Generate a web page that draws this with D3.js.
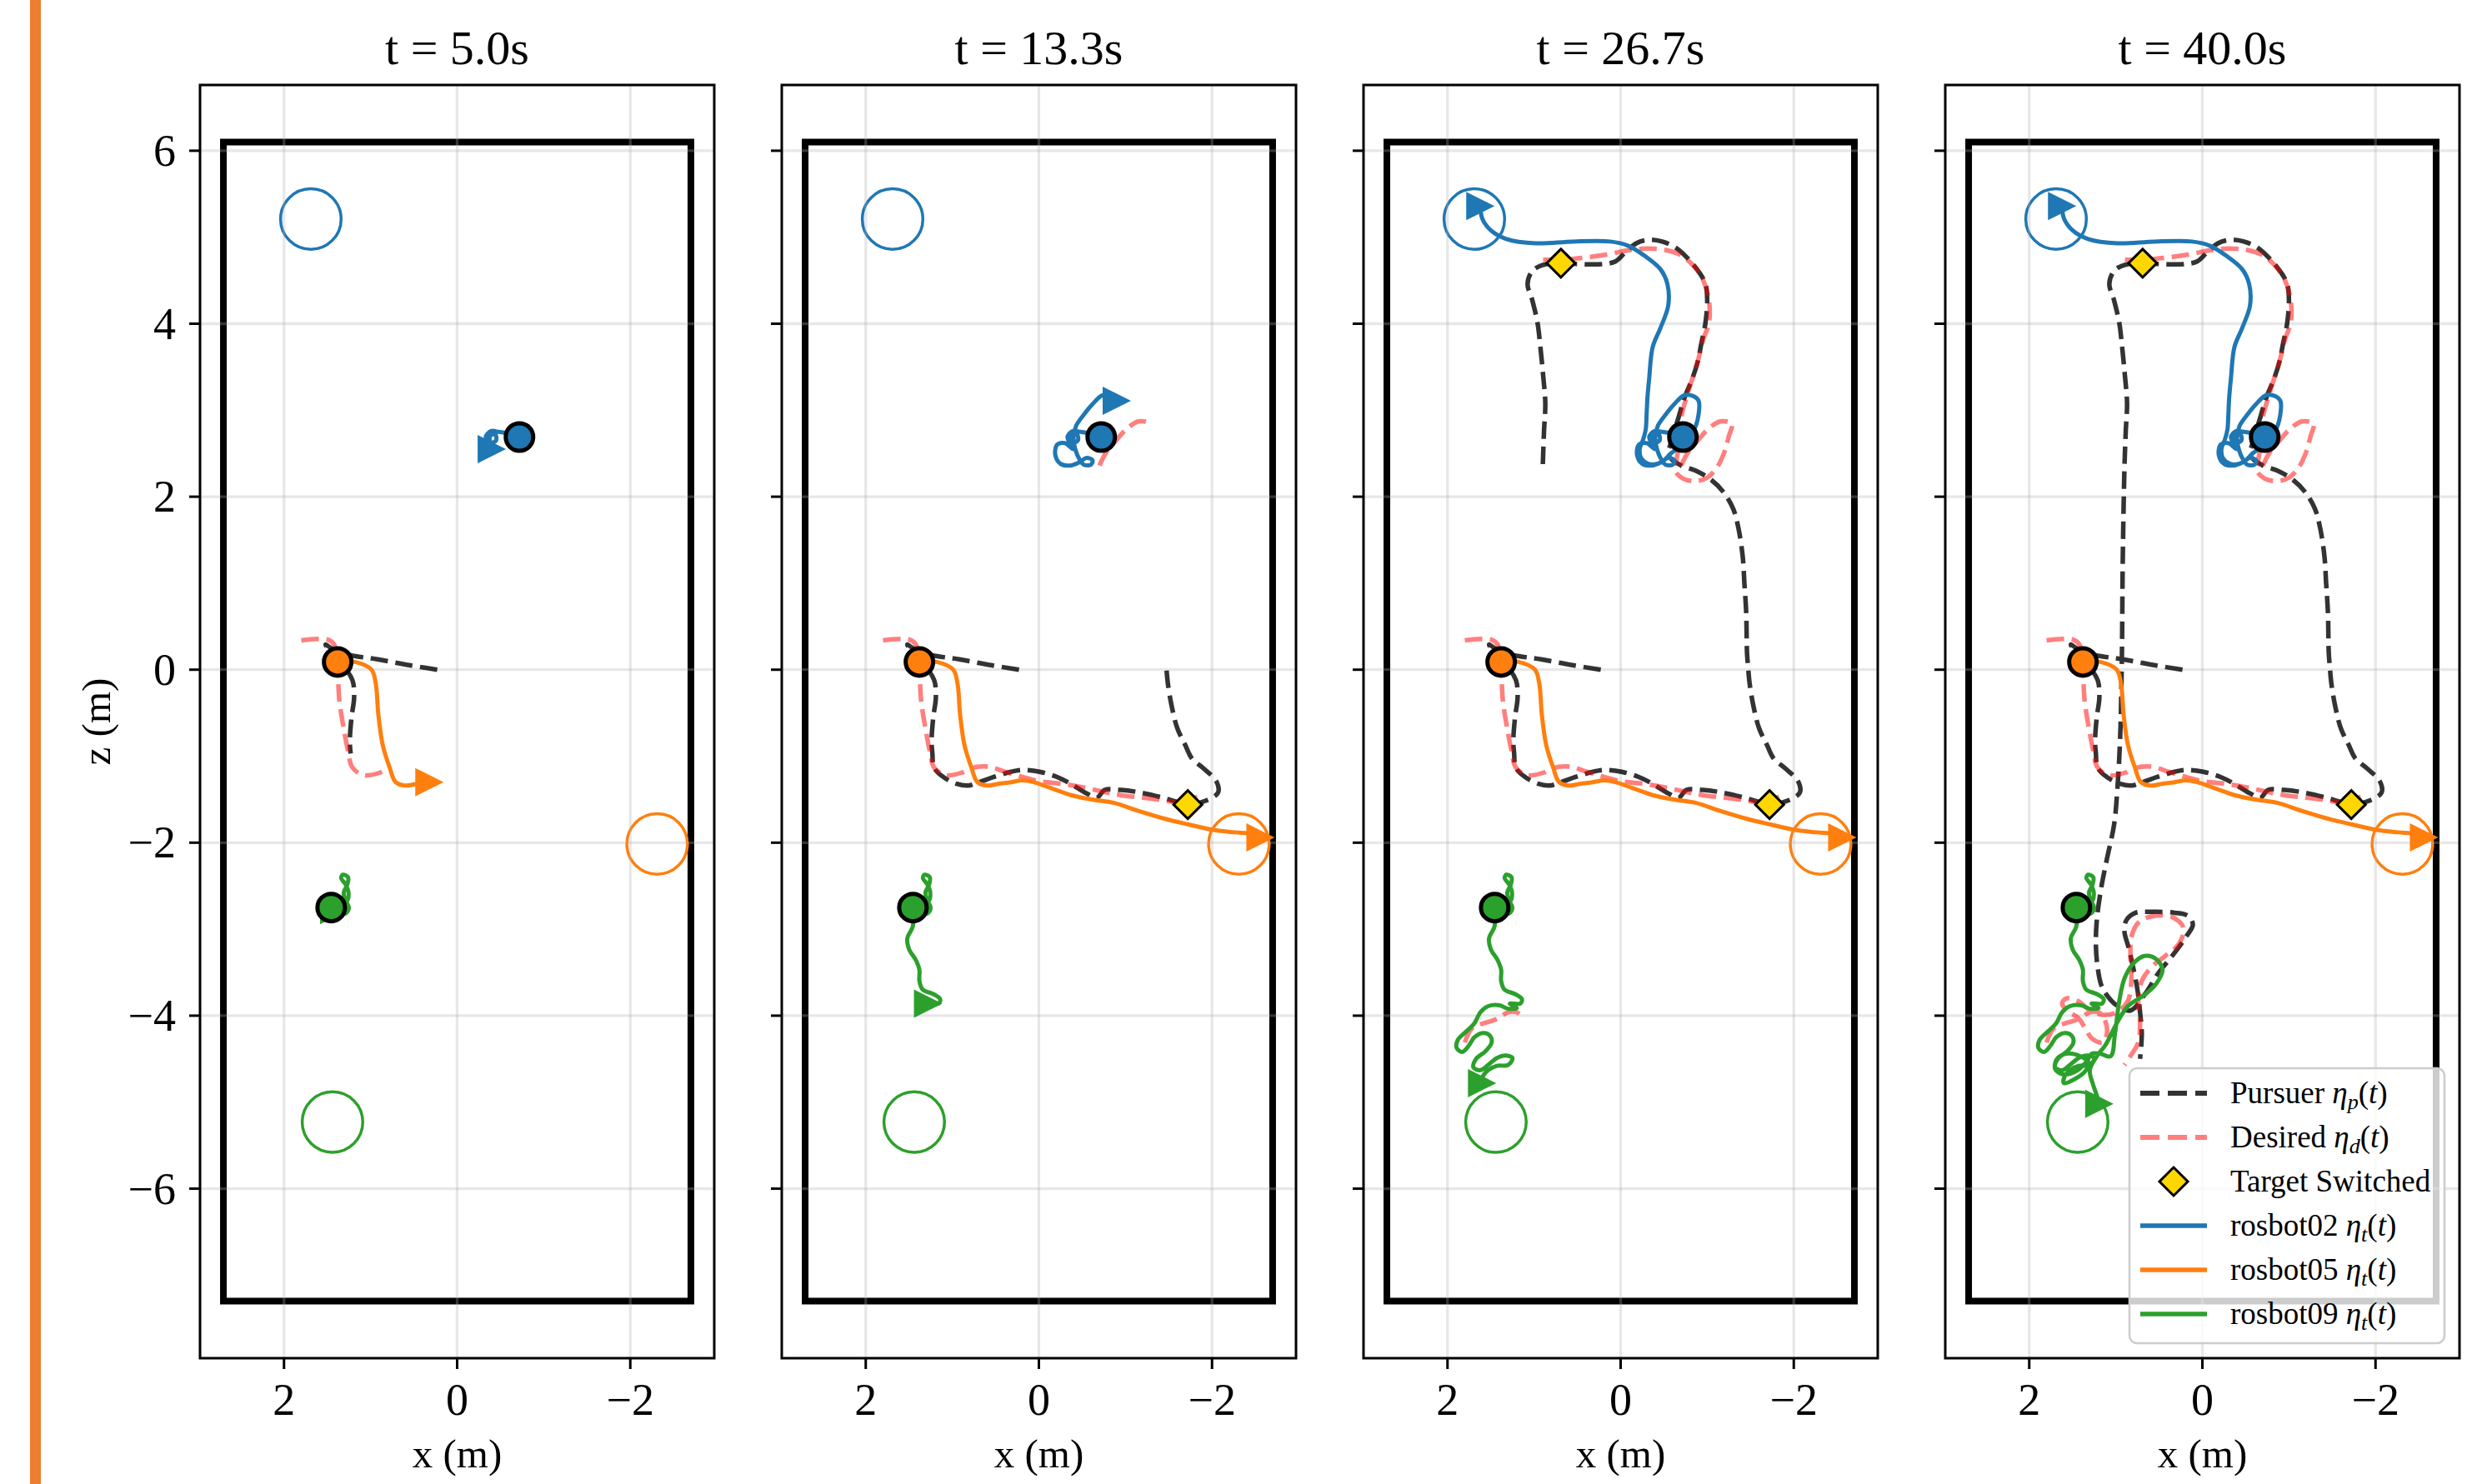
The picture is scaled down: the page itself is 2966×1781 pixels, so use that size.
<!DOCTYPE html>
<html>
<head>
<meta charset="utf-8">
<script src="https://cdn.jsdelivr.net/npm/d3@7"></script>
<style>
body { margin: 0; background: #fff; }
text { font-family: "Liberation Serif", "Times New Roman", serif; fill: #000; }
</style>
</head>
<body>
<script>
// figure size
var width = 2966;
var height = 1781;

// snapshot times of the four panels
var panelTimes = [5.0, 13.3, 26.7, 40.0];
var xTicks = [2, 0, -2];
var zTicks = [-6, -4, -2, 0, 2, 4, 6];
var xLimits = [2.97, -2.97];
var zLimits = [-7.96, 6.76];
// arena walls
var arenaX = [-2.7, 2.7];
var arenaZ = [-7.3, 6.1];

// robots
var robotNames = ['rosbot02', 'rosbot05', 'rosbot09'];
var robotColors = ['#1f77b4', '#ff7f0e', '#2ca02c'];
var robotStarts = [[-0.72, 2.69], [1.38, 0.09], [1.455, -2.75]];
var robotGoals = [[1.69, 5.21], [-2.31, -2.015], [1.44, -5.23]];
var goalRadius = 0.35;

var blueTrack = [
  [-0.72, 2.69], [-0.60, 2.73], [-0.48, 2.75], [-0.39, 2.76], [-0.33, 2.69], [-0.37, 2.62],
  [-0.45, 2.65], [-0.44, 2.72], [-0.38, 2.70], [-0.40, 2.55], [-0.30, 2.62], [-0.21, 2.60],
  [-0.19, 2.48], [-0.25, 2.38], [-0.36, 2.36], [-0.47, 2.40], [-0.55, 2.45], [-0.62, 2.42],
  [-0.60, 2.37], [-0.52, 2.37], [-0.47, 2.43], [-0.42, 2.55], [-0.40, 2.68], [-0.43, 2.82],
  [-0.52, 2.95], [-0.62, 3.07], [-0.73, 3.17], [-0.82, 3.17], [-0.90, 3.11], [-0.90, 2.95],
  [-0.86, 2.80], [-0.78, 2.68], [-0.68, 2.58], [-0.58, 2.50], [-0.50, 2.42], [-0.42, 2.38],
  [-0.32, 2.38], [-0.24, 2.44], [-0.22, 2.55], [-0.26, 2.66], [-0.29, 2.78], [-0.30, 2.95],
  [-0.31, 3.15], [-0.33, 3.37], [-0.37, 3.73], [-0.46, 3.95], [-0.55, 4.21], [-0.54, 4.46],
  [-0.46, 4.63], [-0.27, 4.79], [-0.09, 4.90], [0.12, 4.95], [0.55, 4.95], [0.98, 4.93],
  [1.32, 4.98], [1.50, 5.08], [1.60, 5.22], [1.62, 5.36]
];
var orangeTrack = [
  [1.38, 0.09], [1.18, 0.09], [0.99, 0.0], [0.94, -0.16], [0.91, -0.52], [0.86, -0.87],
  [0.78, -1.13], [0.71, -1.30], [0.60, -1.34], [0.47, -1.32], [0.32, -1.30], [0.19, -1.28],
  [0.06, -1.30], [-0.14, -1.37], [-0.37, -1.45], [-0.61, -1.50], [-0.87, -1.54], [-1.14, -1.63],
  [-1.44, -1.72], [-1.73, -1.79], [-2.00, -1.85], [-2.26, -1.88], [-2.46, -1.90], [-2.56, -1.94]
];
var greenTrack = [
  [1.455, -2.75], [1.27, -2.67], [1.255, -2.575], [1.29, -2.48], [1.34, -2.41], [1.32, -2.37],
  [1.26, -2.40], [1.27, -2.49], [1.31, -2.575], [1.29, -2.67], [1.25, -2.75], [1.29, -2.82],
  [1.42, -2.78], [1.46, -2.98], [1.52, -3.105], [1.50, -3.23], [1.42, -3.36], [1.38, -3.47],
  [1.38, -3.60], [1.34, -3.70], [1.22, -3.75], [1.14, -3.81], [1.16, -3.86], [1.28, -3.86],
  [1.20, -3.91], [1.30, -3.92], [1.40, -3.88], [1.53, -3.89], [1.62, -3.96], [1.69, -4.09],
  [1.78, -4.18], [1.88, -4.28], [1.895, -4.37], [1.83, -4.42], [1.75, -4.34], [1.69, -4.25],
  [1.59, -4.20], [1.51, -4.23], [1.49, -4.31], [1.56, -4.41], [1.67, -4.50], [1.70, -4.60],
  [1.62, -4.63], [1.53, -4.57], [1.43, -4.49], [1.33, -4.46], [1.25, -4.49], [1.30, -4.57],
  [1.43, -4.58], [1.53, -4.63], [1.59, -4.70], [1.60, -4.78], [1.47, -4.73], [1.36, -4.65],
  [1.31, -4.55], [1.41, -4.47], [1.57, -4.44], [1.68, -4.50], [1.70, -4.62], [1.60, -4.68],
  [1.44, -4.63], [1.33, -4.52], [1.28, -4.44], [1.18, -4.44], [1.06, -4.47], [1.01, -4.21],
  [0.96, -3.83], [0.90, -3.57], [0.80, -3.40], [0.67, -3.31], [0.54, -3.34], [0.46, -3.47],
  [0.54, -3.64], [0.67, -3.76], [0.86, -3.89], [0.99, -4.09], [1.12, -4.34], [1.22, -4.47],
  [1.30, -4.63], [1.265, -4.79], [1.22, -4.92], [1.19, -5.02]
];
var robotTracks = [blueTrack, orangeTrack, greenTrack];
// number of samples shown in each panel
var robotCuts = [[10, 29, 58, 58], [11, 24, 24, 24], [13, 24, 52, 82]];

// pursuer
var pursuerTrack = [
  [0.23, 0.0], [0.54, 0.05], [0.92, 0.12], [1.24, 0.17], [1.44, 0.24], [1.52, 0.29],
  [1.46, 0.20], [1.32, 0.05], [1.21, -0.12], [1.19, -0.32], [1.22, -0.55], [1.24, -0.84],
  [1.23, -0.97], [1.22, -1.10], [1.185, -1.17], [1.09, -1.25], [0.95, -1.32], [0.82, -1.34],
  [0.69, -1.30], [0.52, -1.24], [0.32, -1.18], [0.19, -1.16], [-0.01, -1.18], [-0.21, -1.24],
  [-0.37, -1.32], [-0.55, -1.43], [-0.67, -1.48], [-0.76, -1.39], [-0.95, -1.39], [-1.17, -1.42],
  [-1.43, -1.48], [-1.60, -1.53], [-1.72, -1.56], [-1.94, -1.51], [-2.07, -1.42], [-2.05, -1.29],
  [-1.90, -1.14], [-1.77, -1.03], [-1.69, -0.87], [-1.60, -0.68], [-1.54, -0.45], [-1.49, -0.16],
  [-1.47, 0.06], [-1.46, 0.19], [-1.45, 0.67], [-1.43, 0.99], [-1.41, 1.31], [-1.36, 1.64],
  [-1.30, 1.86], [-1.19, 2.05], [-1.04, 2.20], [-0.87, 2.30], [-0.70, 2.36], [-0.55, 2.48],
  [-0.58, 2.62], [-0.67, 2.92], [-0.74, 3.15], [-0.83, 3.37], [-0.89, 3.56], [-0.93, 3.76],
  [-0.98, 4.01], [-1.00, 4.27], [-0.98, 4.46], [-0.91, 4.59], [-0.78, 4.75], [-0.65, 4.87],
  [-0.48, 4.95], [-0.33, 4.97], [-0.18, 4.93], [-0.05, 4.82], [0.06, 4.72], [0.21, 4.69],
  [0.51, 4.69], [0.69, 4.70], [0.895, 4.68], [1.02, 4.61], [1.075, 4.46], [1.02, 4.27],
  [0.96, 4.01], [0.93, 3.76], [0.895, 3.40], [0.87, 3.08], [0.885, 2.76], [0.90, 2.34],
  [0.92, 1.24], [0.93, 0.13], [0.95, -0.79], [0.98, -1.35], [1.02, -1.79], [1.105, -2.20],
  [1.17, -2.53], [1.22, -2.90], [1.23, -3.19], [1.21, -3.44], [1.17, -3.64], [1.105, -3.76],
  [0.99, -3.88], [0.83, -3.94], [0.67, -3.76], [0.51, -3.51], [0.35, -3.31], [0.19, -3.09],
  [0.11, -2.95], [0.16, -2.85], [0.32, -2.81], [0.575, -2.80], [0.77, -2.81], [0.88, -2.90],
  [0.90, -3.03], [0.85, -3.22], [0.80, -3.44], [0.75, -3.70], [0.72, -3.96], [0.70, -4.21],
  [0.72, -4.50]
];
var pursuerCuts = [13, 43, 84, 115];

// desired point, one piece per chased target (null = break)
var desiredTrack = [
  [1.80, 0.34], [1.50, 0.35], [1.42, 0.29], [1.38, -0.04], [1.36, -0.36], [1.31, -0.68],
  [1.26, -0.94], [1.21, -1.13], [1.08, -1.22], [0.89, -1.19], [0.79, -1.14], [0.59, -1.12],
  [0.39, -1.18], [0.19, -1.24], [-0.01, -1.29], [-0.27, -1.32], [-0.51, -1.36], [-0.74, -1.41],
  [-0.94, -1.45], [-1.20, -1.48], [-1.44, -1.51], [-1.60, -1.53], [-1.83, -1.47], null,
  [-0.70, 2.36], [-0.77, 2.50], [-0.90, 2.66], [-1.02, 2.79], [-1.15, 2.87], [-1.265, 2.86],
  [-1.29, 2.84], [-1.25, 2.70], [-1.20, 2.52], [-1.12, 2.35], [-1.00, 2.22], [-0.87, 2.18],
  [-0.72, 2.21], [-0.63, 2.30], [-0.65, 2.45], [-0.68, 2.65], [-0.70, 2.92], [-0.78, 3.21],
  [-0.89, 3.56], [-0.955, 3.82], [-1.02, 4.01], [-1.02, 4.27], [-0.955, 4.50], [-0.85, 4.66],
  [-0.70, 4.79], [-0.525, 4.85], [-0.31, 4.87], [-0.09, 4.85], [0.16, 4.80], [0.55, 4.75],
  [0.895, 4.74], null,
  [1.80, -4.31], [1.72, -4.15], [1.59, -4.09], [1.43, -4.04], [1.30, -3.96], [1.20, -3.96],
  [1.14, -4.02], [1.10, -4.18], [1.15, -4.31], [1.28, -4.26], [1.35, -4.15], [1.44, -4.02],
  [1.54, -3.96], [1.62, -3.86], [1.57, -3.80], [1.44, -3.83], [1.31, -3.93], [1.15, -3.99],
  [0.99, -3.96], [0.86, -3.83], [0.82, -3.57], [0.83, -3.31], [0.82, -3.09], [0.735, -2.92],
  [0.575, -2.85], [0.35, -2.86], [0.22, -2.98], [0.27, -3.17], [0.43, -3.31], [0.59, -3.44],
  [0.70, -3.60], [0.74, -3.83], [0.72, -4.09], [0.74, -4.31], [0.82, -4.45], [0.90, -4.57]
];
var desiredCuts = [11, 31, 63, 92];

// target switch events
var switchPoints = [[-1.72, -1.56], [0.69, 4.70]];
var switchCuts = [0, 1, 2, 2];

// legend
var legendLabels = ['Pursuer', 'Desired', 'Target Switched', 'rosbot02', 'rosbot05', 'rosbot09'];
var legendSubs = ['p', 'd', '', 't', 't', 't'];

// layout
var panelLeft = [240, 938, 1636, 2334];
var panelTop = 102;
var panelW = 617;
var panelH = 1528;

var svg = d3.select('body').append('svg')
  .attr('width', width)
  .attr('height', height);

svg.append('rect').attr('width', width).attr('height', height).attr('fill', '#fff');
// slide accent bar
svg.append('rect').attr('x', 36).attr('y', 0).attr('width', 13).attr('height', height).attr('fill', '#ED7D31');

var xScale = d3.scaleLinear().domain(xLimits).range([0, panelW]);
var zScale = d3.scaleLinear().domain(zLimits).range([panelH, 0]);

var line = d3.line()
  .defined(function(d){ return d != null; })
  .x(function(d){ return xScale(d[0]); })
  .y(function(d){ return zScale(d[1]); })
  .curve(d3.curveCatmullRom.alpha(0.5));

var diamondPath = 'M0,-17L17,0L0,17L-17,0Z';
var arrowPath = 'M-17,-17L17,0L-17,17Z';
var tickText = function(d){ return d < 0 ? '\u2212' + Math.abs(d) : String(d); };

var drawPanel = function(p){
  var g = svg.append('g').attr('transform', 'translate(' + panelLeft[p] + ',' + panelTop + ')');
  var clipId = 'clip' + p;
  g.append('clipPath').attr('id', clipId).append('rect').attr('width', panelW).attr('height', panelH);
  var plot = g.append('g').attr('clip-path', 'url(#' + clipId + ')');

  // arena walls
  plot.append('rect')
    .attr('x', xScale(arenaX[1])).attr('y', zScale(arenaZ[1]))
    .attr('width', xScale(arenaX[0]) - xScale(arenaX[1]))
    .attr('height', zScale(arenaZ[0]) - zScale(arenaZ[1]))
    .attr('fill', 'none').attr('stroke', '#000').attr('stroke-width', 8);

  // goals
  plot.selectAll('circle.goal').data(robotGoals).enter().append('circle')
    .attr('class', 'goal')
    .attr('cx', function(d){ return xScale(d[0]); })
    .attr('cy', function(d){ return zScale(d[1]); })
    .attr('r', xScale(0) - xScale(goalRadius))
    .attr('fill', 'none')
    .attr('stroke', function(d, i){ return robotColors[i]; })
    .attr('stroke-width', 3.5);

  // grid
  plot.selectAll('line.gx').data(xTicks).enter().append('line')
    .attr('x1', function(d){ return xScale(d); }).attr('x2', function(d){ return xScale(d); })
    .attr('y1', 0).attr('y2', panelH)
    .attr('stroke', '#b0b0b0').attr('stroke-opacity', 0.3).attr('stroke-width', 3.3);
  plot.selectAll('line.gz').data(zTicks).enter().append('line')
    .attr('y1', function(d){ return zScale(d); }).attr('y2', function(d){ return zScale(d); })
    .attr('x1', 0).attr('x2', panelW)
    .attr('stroke', '#b0b0b0').attr('stroke-opacity', 0.3).attr('stroke-width', 3.3);

  // pursuer and desired
  plot.append('path')
    .attr('d', line(pursuerTrack.slice(0, pursuerCuts[p])))
    .attr('fill', 'none').attr('stroke', '#000').attr('stroke-opacity', 0.8)
    .attr('stroke-width', 5.5).attr('stroke-dasharray', '21,9').attr('stroke-linejoin', 'round');
  plot.append('path')
    .attr('d', line(desiredTrack.slice(0, desiredCuts[p])))
    .attr('fill', 'none').attr('stroke', '#ff0000').attr('stroke-opacity', 0.5)
    .attr('stroke-width', 5.5).attr('stroke-dasharray', '21,9').attr('stroke-linejoin', 'round');

  // robot tracks
  robotTracks.forEach(function(track, r){
    var shown = track.slice(0, robotCuts[r][p]);
    plot.append('path')
      .attr('d', line(shown))
      .attr('fill', 'none').attr('stroke', robotColors[r])
      .attr('stroke-width', 5).attr('stroke-linejoin', 'round').attr('stroke-linecap', 'round');
    var last = shown[shown.length - 1];
    plot.append('path')
      .attr('d', arrowPath)
      .attr('transform', 'translate(' + xScale(last[0]) + ',' + zScale(last[1]) + ')')
      .attr('fill', robotColors[r]);
  });

  // start markers
  plot.selectAll('circle.start').data(robotStarts).enter().append('circle')
    .attr('class', 'start')
    .attr('cx', function(d){ return xScale(d[0]); })
    .attr('cy', function(d){ return zScale(d[1]); })
    .attr('r', 16.5)
    .attr('fill', function(d, i){ return robotColors[i]; })
    .attr('stroke', '#000').attr('stroke-width', 5);

  // target switches
  plot.selectAll('path.sw').data(switchPoints.slice(0, switchCuts[p])).enter().append('path')
    .attr('class', 'sw')
    .attr('d', diamondPath)
    .attr('transform', function(d){ return 'translate(' + xScale(d[0]) + ',' + zScale(d[1]) + ')'; })
    .attr('fill', '#FFD700').attr('stroke', '#000').attr('stroke-width', 3);

  // frame
  g.append('rect').attr('width', panelW).attr('height', panelH)
    .attr('fill', 'none').attr('stroke', '#000').attr('stroke-width', 3);

  // ticks
  g.selectAll('line.tx').data(xTicks).enter().append('line')
    .attr('x1', function(d){ return xScale(d); }).attr('x2', function(d){ return xScale(d); })
    .attr('y1', panelH).attr('y2', panelH + 13)
    .attr('stroke', '#000').attr('stroke-width', 3);
  g.selectAll('text.tx').data(xTicks).enter().append('text')
    .attr('x', function(d){ return xScale(d); })
    .attr('y', panelH + 68)
    .attr('text-anchor', 'middle')
    .attr('font-size', 54)
    .text(tickText);
  g.selectAll('line.tz').data(zTicks).enter().append('line')
    .attr('y1', function(d){ return zScale(d); }).attr('y2', function(d){ return zScale(d); })
    .attr('x1', 0).attr('x2', -13)
    .attr('stroke', '#000').attr('stroke-width', 3);
  if (p === 0) {
    g.selectAll('text.tz').data(zTicks).enter().append('text')
      .attr('x', -29)
      .attr('y', function(d){ return zScale(d) + 18; })
      .attr('text-anchor', 'end')
      .attr('font-size', 54)
      .text(tickText);
    g.append('text')
      .attr('transform', 'translate(-124,' + panelH / 2 + ') rotate(-90)')
      .attr('y', 16)
      .attr('text-anchor', 'middle')
      .attr('font-size', 49)
      .text('z (m)');
  }

  g.append('text')
    .attr('x', panelW / 2).attr('y', panelH + 131)
    .attr('text-anchor', 'middle').attr('font-size', 49)
    .text('x (m)');
  g.append('text')
    .attr('x', panelW / 2).attr('y', -25)
    .attr('text-anchor', 'middle').attr('font-size', 58)
    .text('t = ' + panelTimes[p].toFixed(1) + 's');
};

for (var p = 0; p < panelTimes.length; p++) {
  drawPanel(p);
}

// legend in the last panel
var lg = svg.append('g').attr('transform', 'translate(2555,1282)');
lg.append('rect').attr('width', 378).attr('height', 330).attr('rx', 9)
  .attr('fill', '#fff').attr('fill-opacity', 0.8)
  .attr('stroke', '#cccccc').attr('stroke-width', 2.5);
legendLabels.forEach(function(label, i){
  var cy = 30 + i * 53;
  if (i === 0 || i === 1) {
    lg.append('line').attr('x1', 13).attr('x2', 93).attr('y1', cy).attr('y2', cy)
      .attr('stroke', i === 0 ? '#000' : '#ff0000').attr('stroke-opacity', i === 0 ? 0.8 : 0.5)
      .attr('stroke-width', 6).attr('stroke-dasharray', '23,10');
  } else if (i === 2) {
    lg.append('path').attr('d', diamondPath).attr('transform', 'translate(53,' + cy + ')')
      .attr('fill', '#FFD700').attr('stroke', '#000').attr('stroke-width', 3);
  } else {
    lg.append('line').attr('x1', 13).attr('x2', 93).attr('y1', cy).attr('y2', cy)
      .attr('stroke', robotColors[i - 3]).attr('stroke-width', 5.5);
  }
  var t = lg.append('text').attr('x', 121).attr('y', cy + 12).attr('font-size', 37);
  t.append('tspan').text(label);
  if (legendSubs[i]) {
    t.append('tspan').text(' ');
    t.append('tspan').attr('font-style', 'italic').text('\u03b7');
    t.append('tspan').attr('font-style', 'italic').attr('font-size', 26).attr('dy', 7).text(legendSubs[i]);
    t.append('tspan').attr('dy', -7).text('(');
    t.append('tspan').attr('font-style', 'italic').text('t');
    t.append('tspan').text(')');
  }
});
</script>
</body>
</html>
